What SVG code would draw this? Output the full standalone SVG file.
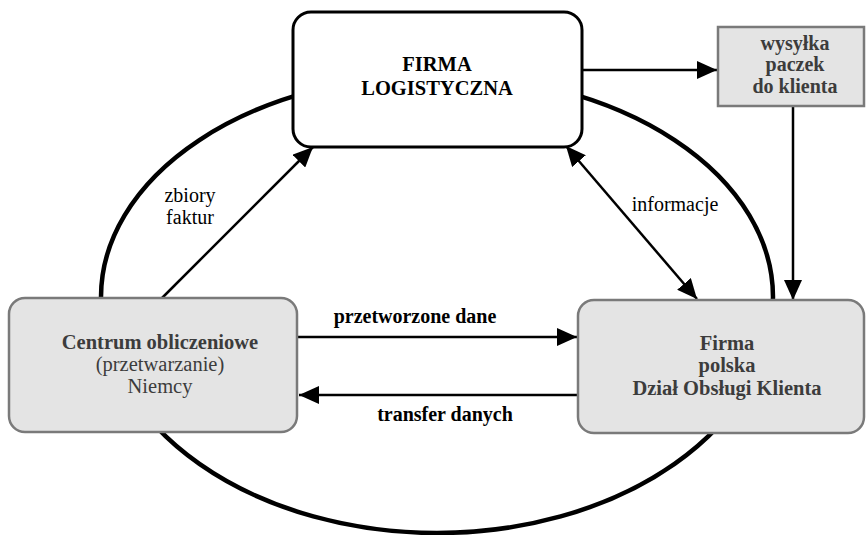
<svg xmlns="http://www.w3.org/2000/svg" width="866" height="535" viewBox="0 0 866 535">
  <defs>
    <marker id="ah" markerUnits="userSpaceOnUse" markerWidth="22" markerHeight="18" refX="20" refY="9" orient="auto-start-reverse" viewBox="0 0 22 18">
      <path d="M0,0 L20,9 L0,18 Z" fill="#000"/>
    </marker>
  </defs>
  <style>
    .t { font-family: "Liberation Serif", "Times New Roman", serif; text-anchor: middle; }
    .b { font-weight: bold; }
    .lbl { font-size: 20px; fill: #000; }
    .lr { font-size: 20px; fill: #000; }
    .gray { fill: #e4e4e4; stroke: #7a7a7a; stroke-width: 2.5; }
    .gtxt { fill: #3c3c3c; font-size: 20.5px; }
    .wtxt { fill: #3c3c3c; font-size: 20px; }
    .conn { stroke: #000; stroke-width: 2.5; fill: none; }
  </style>
  <rect width="866" height="535" fill="#fff"/>
  <!-- background cycle ellipse -->
  <g id="cycle">
    <path d="M101,297 A336,222 0 0 1 773,297 A336,236 0 0 1 101,297 Z" fill="none" stroke="#000" stroke-width="4.5"/>
  </g>
  <g id="connectors">
    <line class="conn" x1="162" y1="298" x2="313" y2="147" marker-end="url(#ah)"/>
    <line class="conn" x1="566" y1="146" x2="697" y2="299" marker-start="url(#ah)" marker-end="url(#ah)"/>
    <line class="conn" x1="583" y1="70" x2="717" y2="70" marker-end="url(#ah)"/>
    <line class="conn" x1="793" y1="106" x2="793" y2="300" marker-end="url(#ah)"/>
    <line class="conn" x1="298" y1="337" x2="577" y2="337" stroke-width="3" marker-end="url(#ah)"/>
    <line class="conn" x1="578" y1="395" x2="299" y2="395" stroke-width="3" marker-end="url(#ah)"/>
    <text class="t lr" x="190" y="202">zbiory</text>
    <text class="t lr" x="190" y="224">faktur</text>
    <text class="t lr" x="675" y="211">informacje</text>
    <text class="t lbl b" x="415" y="323">przetworzone dane</text>
    <text class="t lbl b" x="445" y="421">transfer danych</text>
  </g>
  <g id="firma-logistyczna">
    <rect x="293" y="12" width="289" height="135" rx="18" ry="18" fill="#fff" stroke="#000" stroke-width="3"/>
    <text class="t b" x="437" y="71" font-size="20.5">FIRMA</text>
    <text class="t b" x="437" y="95" font-size="20.5">LOGISTYCZNA</text>
  </g>
  <g id="wysylka">
    <rect class="gray" x="718" y="27" width="146" height="79"/>
    <text class="t b wtxt" x="795" y="50">wysyłka</text>
    <text class="t b wtxt" x="795" y="71">paczek</text>
    <text class="t b wtxt" x="795" y="93">do klienta</text>
  </g>
  <g id="centrum">
    <rect class="gray" x="9" y="298" width="288" height="134" rx="16" ry="16"/>
    <text class="t b gtxt" x="160" y="349">Centrum obliczeniowe</text>
    <text class="t gtxt" x="160" y="371">(przetwarzanie)</text>
    <text class="t gtxt" x="160" y="393">Niemcy</text>
  </g>
  <g id="firma-polska">
    <rect class="gray" x="578" y="300" width="286" height="133" rx="16" ry="16"/>
    <text class="t b gtxt" x="727" y="350">Firma</text>
    <text class="t b gtxt" x="727" y="372">polska</text>
    <text class="t b gtxt" x="727" y="395">Dział Obsługi Klienta</text>
  </g>
</svg>
